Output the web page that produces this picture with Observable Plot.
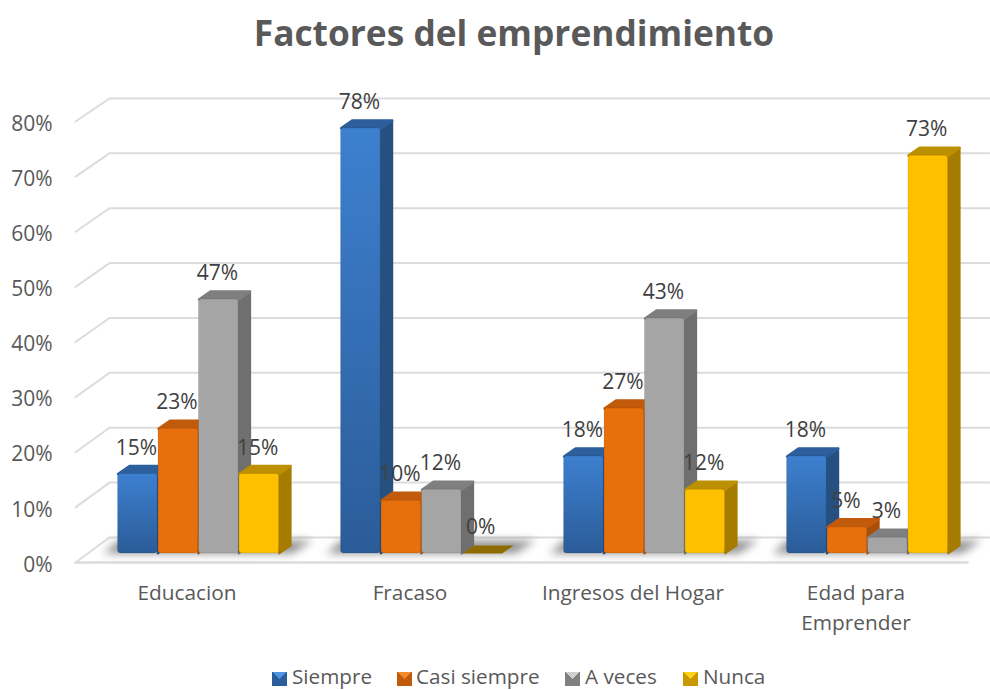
<!DOCTYPE html>
<html>
<head>
<meta charset="utf-8">
<script src="https://cdn.jsdelivr.net/npm/d3@7"></script>
<script src="https://cdn.jsdelivr.net/npm/@observablehq/plot@0.6"></script>
<style>
  html, body { margin: 0; padding: 0; background: #fff; overflow: hidden; }
  body { width: 990px; height: 690px; position: relative; font-family: "Open Sans", sans-serif; color: #595959; }
  #title { position: absolute; left: 0; top: 7px; width: 1028px; text-align: center; font-size: 35.3px; font-weight: 700; line-height: 50px; }
  #chart { position: absolute; left: 0; top: 70px; }
  #legend { position: absolute; left: 0; top: 662px; width: 990px; height: 28px; font-size: 20.7px; line-height: 28px; }
  #legend .k { position: absolute; top: 10px; width: 15px; height: 14px; }
  #legend .t { position: absolute; top: 0; white-space: nowrap; }
</style>
</head>
<body>
<div id="title">Factores del emprendimiento</div>
<div id="chart"></div>
<div id="legend"></div>
<script>
// ---- data ----
const categories = ["Educacion", "Fracaso", "Ingresos del Hogar", "Edad para\nEmprender"];
const seriesNames = ["Siempre", "Casi siempre", "A veces", "Nunca"];
const siempre = [14.6, 78, 17.8, 17.8];
const casiSiempre = [22.9, 9.7, 26.6, 4.8];
const aVeces = [46.6, 11.7, 43.1, 2.9];
const nunca = [14.6, 0, 11.7, 73];
const yTicks = [0, 10, 20, 30, 40, 50, 60, 70, 80];

// ---- styles ----
const frontFill = ["url(#gBlue)", "#e76f0c", "#a5a5a5", "#ffc000"];
const sideFill = ["#26507f", "#a94f08", "#6f6f6f", "#a67c00"];
const topFill = ["#2c5f9c", "#c25a0c", "#7f7f7f", "#bd9000"];
const legendLight = ["#4f94e0", "#f08a2a", "#d0d0d0", "#ffd21a"];
const legendDark = ["#2a5d9b", "#c25a0c", "#808080", "#c99700"];
const legendKeyX = [272, 397, 565, 683];
const legendTextX = [292, 416, 585, 703];

// ---- projection from the 3D box onto the picture's value scale ----
const unitsPerPx = 80 / 441;        // value units per pixel along the front axis
const groupPx = 223.2;              // width of one category in pixels
const barPx = 40.5, barOffsetPx = 42.6;
const depthX = 11.5 / groupPx, depthY = 8 * unitsPerPx;
const barLevel = v => 1.633 + 0.9887 * v;
const wallLevel = v => 4.535 + 0.9955 * v;
const wallX0 = 34 / groupPx, wallX1 = 915 / groupPx;
const x1Of = (g, s) => g + (barOffsetPx + s * barPx) / groupPx;
const x2Of = (g, s) => g + (barOffsetPx + (s + 1) * barPx - 0.8) / groupPx;

const allValues = [siempre, casiSiempre, aVeces, nunca];
const bars = allValues.flatMap((vals, s) => vals.map((v, g) => ({
  s, g, v, x1: x1Of(g, s), x2: x2Of(g, s), y0: barLevel(0), y1: barLevel(v)
})));

const gridPts = yTicks.flatMap(v => [
  {v, x: 0, y: v},
  {v, x: wallX0, y: wallLevel(v)},
  {v, x: wallX1, y: wallLevel(v)}
]);

const poly = (id, pts) => pts.map(([x, y]) => ({id, x, y}));
const sidePts = b => poly(`${b.s}-${b.g}`, [[b.x2, b.y0], [b.x2 + depthX, b.y0 + depthY], [b.x2 + depthX, b.y1 + depthY], [b.x2, b.y1]]);
const topPts = b => poly(`${b.s}-${b.g}`, [[b.x1, b.y1], [b.x2, b.y1], [b.x2 + depthX, b.y1 + depthY], [b.x1 + depthX, b.y1 + depthY]]);

const shadowPts = categories.flatMap((c, g) => poly(g, [
  [g + 0.125, 1.63], [g + 0.973, 1.63], [g + 1.063, 4.0], [g + 0.193, 4.0]
]));

const defs = () => {
  const d = d3.create("svg:defs");
  const lg = d.append("linearGradient").attr("id", "gBlue").attr("x1", 0).attr("y1", 0).attr("x2", 0).attr("y2", 1);
  lg.append("stop").attr("offset", "0%").attr("stop-color", "#3d80d0");
  lg.append("stop").attr("offset", "100%").attr("stop-color", "#2b5c98");
  return d.node();
};

const barMarks = seriesNames.flatMap((name, s) => {
  const rows = bars.filter(b => b.s === s);
  const tall = rows.filter(b => b.v > 0);
  const flat = rows.filter(b => b.v === 0);
  return [
    Plot.line(tall.flatMap(sidePts), {x: "x", y: "y", z: "id", fill: sideFill[s], stroke: sideFill[s], strokeWidth: 2, strokeLinejoin: "round", curve: "linear-closed"}),
    Plot.line(tall.flatMap(topPts), {x: "x", y: "y", z: "id", fill: topFill[s], stroke: topFill[s], strokeWidth: 2.5, strokeLinejoin: "round", curve: "linear-closed"}),
    Plot.line(flat.flatMap(topPts), {x: "x", y: "y", z: "id", fill: "#8f6c00", stroke: "none", curve: "linear-closed"}),
    Plot.rect(tall, {x1: "x1", x2: "x2", y1: "y0", y2: "y1", fill: frontFill[s], rx: 3, stroke: "#000", strokeOpacity: 0.1, strokeWidth: 1})
  ];
});

const chart = Plot.plot({
  width: 990,
  height: 575,
  marginLeft: 75,
  marginRight: 23,
  marginTop: 51,
  marginBottom: 83,
  x: {type: "linear", domain: [0, 4], range: [75, 967]},
  y: {type: "linear", domain: [0, 80], range: [492, 51]},
  style: {background: "transparent", overflow: "visible", fontFamily: "'Open Sans', sans-serif", color: "#595959"},
  marks: [
    defs,
    Plot.line(gridPts, {x: "x", y: "y", z: "v", stroke: "#dcdcdc", strokeWidth: 2, curve: "linear"}),
    Plot.line([{x: 0, y: 0}, {x: 4, y: 0}], {x: "x", y: "y", stroke: "#dcdcdc", strokeWidth: 2.5}),
    Plot.line(shadowPts, {x: "x", y: "y", z: "id", fill: "#6e6e6e", stroke: "none", opacity: 0.75, imageFilter: "blur(4px)", curve: "linear-closed"}),
    ...barMarks,
    Plot.text(bars, {
      x: b => (b.x1 + b.x2) / 2, y: "y1", text: b => `${Math.round(b.v)}%`,
      dx: -1.5, dy: -26, fontSize: 21, fill: "#404040", textAnchor: "middle", lineAnchor: "middle"
    }),
    Plot.axisY({ticks: yTicks, tickFormat: d => `${d}%`, tickSize: 0, tickPadding: 23, dy: 2.5, fontSize: 21, label: null, anchor: "left", fill: "#595959"}),
    Plot.axisX({
      ticks: categories.map((c, g) => g + 0.5), tickFormat: d => categories[Math.floor(d)],
      tickSize: 0, tickPadding: 16, fontSize: 20.8, lineHeight: 1.44, label: null, anchor: "bottom", fill: "#595959"
    })
  ]
});
document.getElementById("chart").appendChild(chart);

const legend = document.getElementById("legend");
seriesNames.forEach((name, s) => {
  const k = document.createElement("span");
  k.className = "k";
  k.style.left = legendKeyX[s] + "px";
  k.style.background = `conic-gradient(from 315deg, ${legendLight[s]} 0 90deg, ${legendDark[s]} 90deg 360deg)`;
  const t = document.createElement("span");
  t.className = "t";
  t.style.left = legendTextX[s] + "px";
  t.textContent = name;
  legend.append(k, t);
});
</script>
</body>
</html>
